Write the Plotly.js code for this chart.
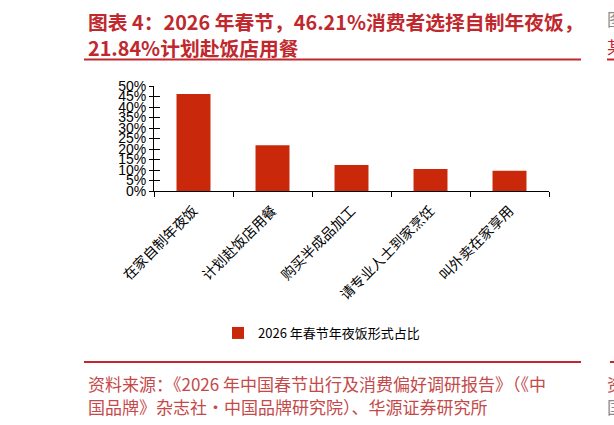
<!DOCTYPE html>
<html>
<head>
<meta charset="utf-8">
<script src="https://cdn.plot.ly/plotly-3.0.1.min.js"></script>
<style>html,body{margin:0;padding:0;background:#fff;}#chart{width:614px;height:425px;}</style>
</head>
<body>
<div id="chart"></div>
<script>
const categories = ['在家自制年夜饭', '计划赴饭店用餐', '购买半成品加工', '请专业人士到家烹饪', '叫外卖在家享用'];
const values = [0.4621, 0.2184, 0.124, 0.105, 0.096];
const seriesName = '2026 年春节年夜饭形式占比';
const yTickVals = [0, 0.05, 0.1, 0.15, 0.2, 0.25, 0.3, 0.35, 0.4, 0.45, 0.5];
const yTickText = ['0%', '5%', '10%', '15%', '20%', '25%', '30%', '35%', '40%', '45%', '50%'];
const titleLines = ['图表 4：2026 年春节，46.21%消费者选择自制年夜饭，', '21.84%计划赴饭店用餐'];
const sourceLines = ['资料来源：《2026 年中国春节出行及消费偏好调研报告》（《中', '国品牌》杂志社·中国品牌研究院）、华源证券研究所'];

const W = 614, H = 425;
const L = 154, R = 549, T = 86, B = 191;
const px = x => (x - L) / (R - L);
const py = y => (B - y) / (B - T);

const titleColor = '#C0282D';
const srcColor = '#C4494A';
const cjk = '"Noto Sans CJK SC", "Liberation Sans", sans-serif';

const annotations = [
  {text: titleLines[0], x: px(86), y: py(21), xanchor: 'left', yanchor: 'middle'},
  {text: titleLines[1], x: px(86), y: py(47), xanchor: 'left', yanchor: 'middle'}
].map(a => Object.assign(a, {xref: 'paper', yref: 'paper', showarrow: false,
  font: {family: cjk, size: 19.8, color: titleColor, weight: 'bold'}}));

sourceLines.forEach((t, i) => annotations.push({
  text: t, x: px(86), y: py(384 + i * 22), xref: 'paper', yref: 'paper', showarrow: false,
  xanchor: 'left', yanchor: 'middle', font: {family: cjk, size: 17, color: srcColor}
}));
// partial glyphs of the neighbouring column at the right edge
[['图', 18, '#8a8a8a'], ['某', 46, titleColor], ['资', 384, srcColor], ['国', 406, '#8a8a8a']].forEach(([t, y, c]) => annotations.push({
  text: t, x: px(605), y: py(y), xref: 'paper', yref: 'paper', showarrow: false,
  xanchor: 'left', yanchor: 'middle', font: {family: cjk, size: 17, color: c}
}));

const shapes = [
  {type: 'line', xref: 'paper', yref: 'paper', x0: px(84), x1: px(581), y0: py(59.5), y1: py(59.5), line: {color: titleColor, width: 2}},
  {type: 'line', xref: 'paper', yref: 'paper', x0: px(607), x1: px(620), y0: py(59.5), y1: py(59.5), line: {color: titleColor, width: 2}},
  {type: 'line', xref: 'paper', yref: 'paper', x0: px(84), x1: px(581), y0: py(362), y1: py(362), line: {color: titleColor, width: 2}},
  {type: 'line', xref: 'paper', yref: 'paper', x0: px(610), x1: px(620), y0: py(362), y1: py(362), line: {color: titleColor, width: 2}}
];

const data = [
  {type: 'bar', x: categories, y: values, name: seriesName, marker: {color: '#C9290A'}, showlegend: true},
  {type: 'scatter', x: categories, y: values, yaxis: 'y2', mode: 'none', showlegend: false, hoverinfo: 'skip'}
];

const layout = {
  width: W, height: H,
  margin: {l: L, r: W - R, t: T, b: H - B, pad: 0},
  paper_bgcolor: '#fff', plot_bgcolor: '#fff',
  bargap: 0.57,
  font: {family: cjk, color: '#000'},
  xaxis: {
    type: 'category', showline: true, linecolor: '#000', linewidth: 1,
    ticks: 'outside', ticklen: 5, tickcolor: '#000', tickson: 'boundaries',
    tickangle: -45, ticklabelstandoff: 5, tickfont: {family: cjk, size: 14, color: '#000'},
    showgrid: false, zeroline: false, fixedrange: true
  },
  yaxis: {
    range: [0, 0.5], tickvals: yTickVals, ticktext: yTickText,
    showline: true, linecolor: '#000', linewidth: 1,
    ticks: 'outside', ticklen: 4, tickcolor: '#000',
    tickfont: {family: '"Liberation Sans", Arial, sans-serif', size: 14, color: '#000'},
    showgrid: false, zeroline: false, fixedrange: true
  },
  yaxis2: {
    overlaying: 'y', side: 'left', range: [0, 0.5], tickvals: yTickVals,
    showticklabels: false, ticks: 'inside', ticklen: 6, tickcolor: '#000',
    showline: false, showgrid: false, zeroline: false, fixedrange: true
  },
  showlegend: true,
  legend: {
    orientation: 'h', x: px(218), xanchor: 'left', y: py(333), yanchor: 'middle',
    font: {family: cjk, size: 13, color: '#000'}, bgcolor: 'rgba(0,0,0,0)'
  },
  annotations: annotations,
  shapes: shapes
};

Plotly.newPlot('chart', data, layout, {staticPlot: true, displayModeBar: false});
</script>
</body>
</html>
